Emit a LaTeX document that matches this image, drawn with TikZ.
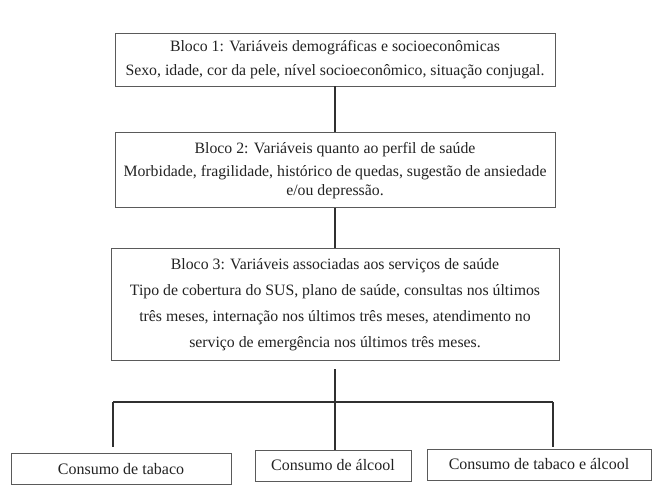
\documentclass[tikz,border=0pt]{standalone}
\usepackage{fontspec}
\setmainfont{Liberation Serif}
\usepackage{xcolor}
\definecolor{boxgray}{HTML}{5A5A5A}
\definecolor{linegray}{HTML}{303030}
\definecolor{textgray}{HTML}{222222}
\usetikzlibrary{positioning}
\tikzset{
  bloco/.style={rectangle,draw=boxgray,line width=0.9pt,align=center,inner sep=2pt,text=textgray,font=\fontsize{15.8}{18.5}\selectfont},
  desfecho/.style={bloco,minimum height=31pt,font=\fontsize{16}{18.5}\selectfont},
  link/.style={draw=linegray,line width=1.2pt}
}

\begin{document}
\begin{tikzpicture}[x=1pt,y=-1pt]
  \useasboundingbox (0,0) rectangle (660,492);

  % Blocos hierarquicos
  \node[bloco,minimum width=440pt,minimum height=53pt] (b1) at (335,59.5) {Bloco 1: Variáveis demográficas e socioeconômicas\\[5pt]
    Sexo, idade, cor da pele, nível socioeconômico, situação conjugal.};
  \node[bloco,minimum width=440pt,minimum height=75pt,below=46pt of b1] (b2) {Bloco 2: Variáveis quanto ao perfil de saúde\\[5pt]
    Morbidade, fragilidade, histórico de quedas, sugestão de ansiedade\\ e/ou depressão.};
  \node[bloco,minimum width=448pt,minimum height=112pt,below=40pt of b2] (b3) {Bloco 3: Variáveis associadas aos serviços de saúde\\[7.5pt]
    Tipo de cobertura do SUS, plano de saúde, consultas nos últimos\\[7.5pt]
    três meses, internação nos últimos três meses, atendimento no\\[7.5pt]
    serviço de emergência nos últimos três meses.};

  % Desfechos
  \node[desfecho,minimum width=220pt] (tab) at (121,469) {Consumo de tabaco};
  \node[desfecho,minimum width=156pt] (alc) at (333,465.5) {Consumo de álcool};
  \node[desfecho,minimum width=224pt] (tabalc) at (539,464.5) {Consumo de tabaco e álcool};

  % Ligacoes
  \draw[link] (b1) -- (b2);
  \draw[link] (b2) -- (b3);
  \coordinate (stem) at ([yshift=-8pt]b3.south);
  \coordinate (forkL) at (113,402);
  \coordinate (forkR) at (553,402);
  \coordinate (endL) at (113,447);
  \coordinate (endR) at (553,447);
  \draw[link] (stem) -- (stem |- alc.north);
  \draw[link] (forkL) -- (forkR);
  \draw[link] (forkL) -- (endL);
  \draw[link] (forkR) -- (endR);
\end{tikzpicture}
\end{document}
